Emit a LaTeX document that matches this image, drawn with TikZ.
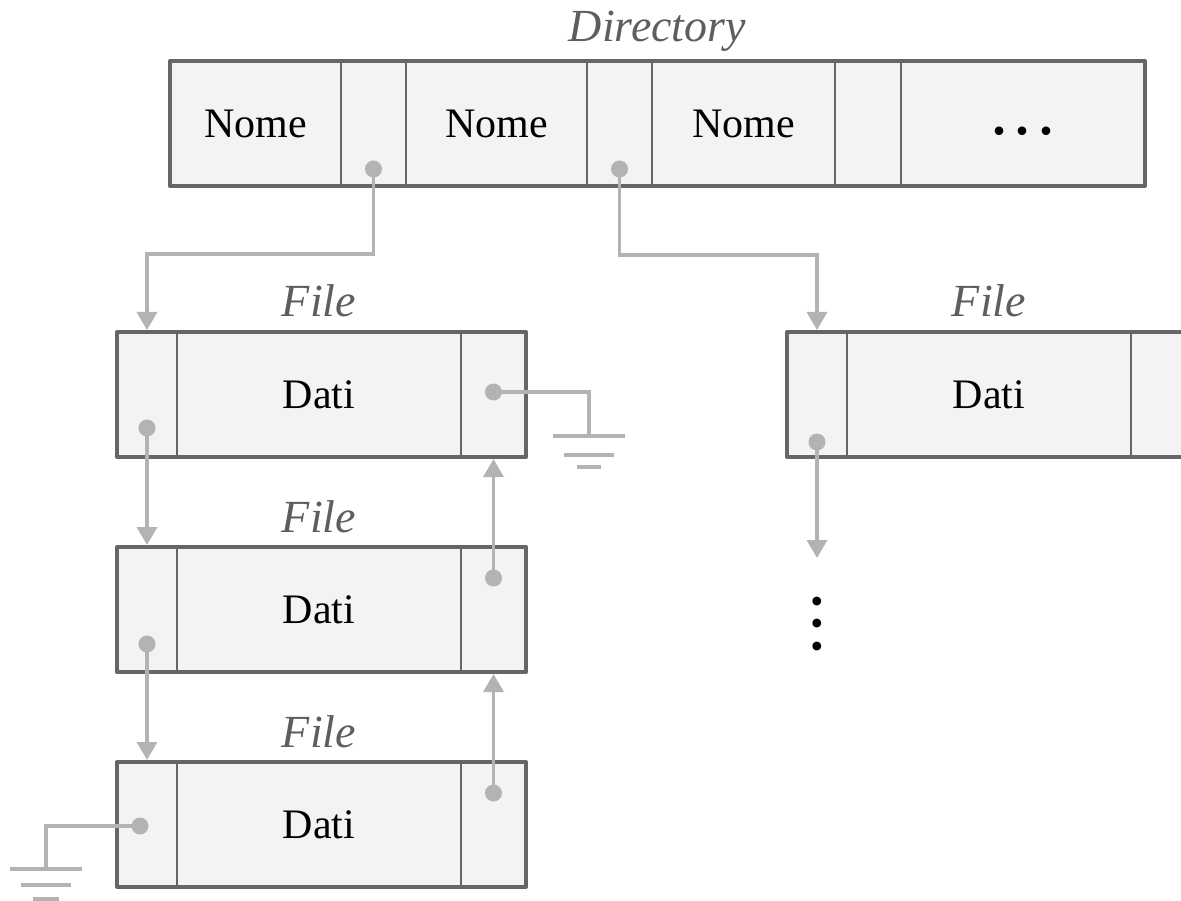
\documentclass[tikz,border=0pt]{standalone}
\usepackage{fontspec}
\setmainfont{Liberation Serif}
\newfontfamily\symfont{DejaVu Sans}
\usetikzlibrary{arrows.meta}
\definecolor{cellfill}{HTML}{F3F3F5}
\definecolor{cellline}{HTML}{666666}
\definecolor{wire}{HTML}{B3B3B3}
\definecolor{captiongray}{HTML}{5E5E5E}
\begin{document}
\begin{tikzpicture}[x=1pt,y=-1pt,
  cell/.style={draw=cellline, line width=2.6pt, fill=cellfill, minimum height=125pt,
    inner sep=0pt, outer sep=0pt, font=\fontsize{42}{50}\selectfont},
  frame/.style={draw=cellline, line width=4pt, line join=round},
  caption/.style={text=captiongray, font=\itshape\fontsize{46}{55}\selectfont,
    anchor=base, inner sep=0pt},
  ellip/.style={inner sep=0pt, font=\fontsize{72}{22.5}\selectfont, align=center},
  vellip/.style={inner sep=0pt, font=\symfont\fontsize{11.5}{22.5}\selectfont, align=center},
  pin/.style={circle, fill=wire, minimum size=17pt, inner sep=0pt},
  wirestyle/.style={draw=wire, line width=3.5pt},
  link/.style={wirestyle, -{Triangle[width=20pt,length=18pt]}},
  gnd/.style={draw=wire, line width=3.5pt}
]
\useasboundingbox (0,0) rectangle (1181,901);

% ---------- directory record ----------
\node[caption] (dirlabel) at (657.5,42) {Directory};
\node[cell, minimum width=171pt] (d1) at (255.5,123.5) {Nome};
\node[cell, minimum width=65pt]  (d2) at (373.5,123.5) {};
\node[cell, minimum width=181pt] (d3) at (496.5,123.5) {Nome};
\node[cell, minimum width=65pt]  (d4) at (619.5,123.5) {};
\node[cell, minimum width=183pt] (d5) at (743.5,123.5) {Nome};
\node[cell, minimum width=66pt]  (d6) at (868,123.5) {};
\node[cell, minimum width=244pt] (d7) at (1023,123.5) {};
\node[ellip] (more) at (1023,131) {.\hspace{6pt}.\hspace{6pt}.};
\draw[frame] (d1.north west) rectangle (d7.south east);

% ---------- file records ----------
\node[caption] (f1label) at (319,317) {File};
\node[cell, minimum width=60pt]  (f1a) at (147,394.5) {};
\node[cell, minimum width=284pt] (f1b) at (319,394.5) {Dati};
\node[cell, minimum width=65pt]  (f1c) at (493.5,394.5) {};
\draw[frame] (f1a.north west) rectangle (f1c.south east);

\node[caption] (f2label) at (319,532) {File};
\node[cell, minimum width=60pt]  (f2a) at (147,609.5) {};
\node[cell, minimum width=284pt] (f2b) at (319,609.5) {Dati};
\node[cell, minimum width=65pt]  (f2c) at (493.5,609.5) {};
\draw[frame] (f2a.north west) rectangle (f2c.south east);

\node[caption] (f3label) at (319,747) {File};
\node[cell, minimum width=60pt]  (f3a) at (147,824.5) {};
\node[cell, minimum width=284pt] (f3b) at (319,824.5) {Dati};
\node[cell, minimum width=65pt]  (f3c) at (493.5,824.5) {};
\draw[frame] (f3a.north west) rectangle (f3c.south east);

\node[caption] (f4label) at (989,317) {File};
\node[cell, minimum width=60pt]  (f4a) at (817,394.5) {};
\node[cell, minimum width=284pt] (f4b) at (989,394.5) {Dati};
\node[cell, minimum width=65pt]  (f4c) at (1163.5,394.5) {};
\draw[frame] (f4a.north west) rectangle (f4c.south east);

% the chain continues
\node[vellip] (vmore) at (817,624) {●\\●\\●};

% ---------- pointer pins ----------
\coordinate (p1) at (373.5,169);
\coordinate (p2) at (619.5,169);
\coordinate (f1l) at (147,428);
\coordinate (f1r) at (493.5,392);
\coordinate (f2l) at (147,644);
\coordinate (f2r) at (493.5,578);
\coordinate (f3l) at (140,826);
\coordinate (f3r) at (493.5,793);
\coordinate (f4l) at (817,442);

% bends and loose ends
\coordinate (j1) at (373.5,254);
\coordinate (j2) at (619.5,255);
\coordinate (g1) at (589,436);
\coordinate (g2) at (46,869);
\coordinate (f4end) at (817,558);

% ---------- pointers ----------
\draw[link] (p1) -- (j1) -| ([yshift=2pt]f1a.north);
\draw[link] (p2) -- (j2) -| ([yshift=2pt]f4a.north);
\draw[link] (f1l) -- ([yshift=2pt]f2a.north);
\draw[link] (f2l) -- ([yshift=2pt]f3a.north);
\draw[link] (f2r) -- ([yshift=-2pt]f1c.south);
\draw[link] (f3r) -- ([yshift=-2pt]f2c.south);
\draw[link] (f4l) -- (f4end);
\draw[wirestyle] (f1r) -| (g1);
\draw[wirestyle] (f3l) -| (g2);

% ---------- ground symbols ----------
\draw[gnd] ([xshift=-36pt]g1) -- ([xshift=36pt]g1);
\draw[gnd] ([xshift=-25pt,yshift=-19pt]g1) -- ([xshift=25pt,yshift=-19pt]g1);
\draw[gnd] ([xshift=-12pt,yshift=-31pt]g1) -- ([xshift=12pt,yshift=-31pt]g1);
\draw[gnd] ([xshift=-36pt]g2) -- ([xshift=36pt]g2);
\draw[gnd] ([xshift=-25pt,yshift=-16pt]g2) -- ([xshift=25pt,yshift=-16pt]g2);
\draw[gnd] ([xshift=-13pt,yshift=-30pt]g2) -- ([xshift=13pt,yshift=-30pt]g2);

% pin heads on top of the wires
\foreach \p in {p1,p2,f1l,f1r,f2l,f2r,f3l,f3r,f4l}
  \node[pin] at (\p) {};
\end{tikzpicture}
\end{document}
